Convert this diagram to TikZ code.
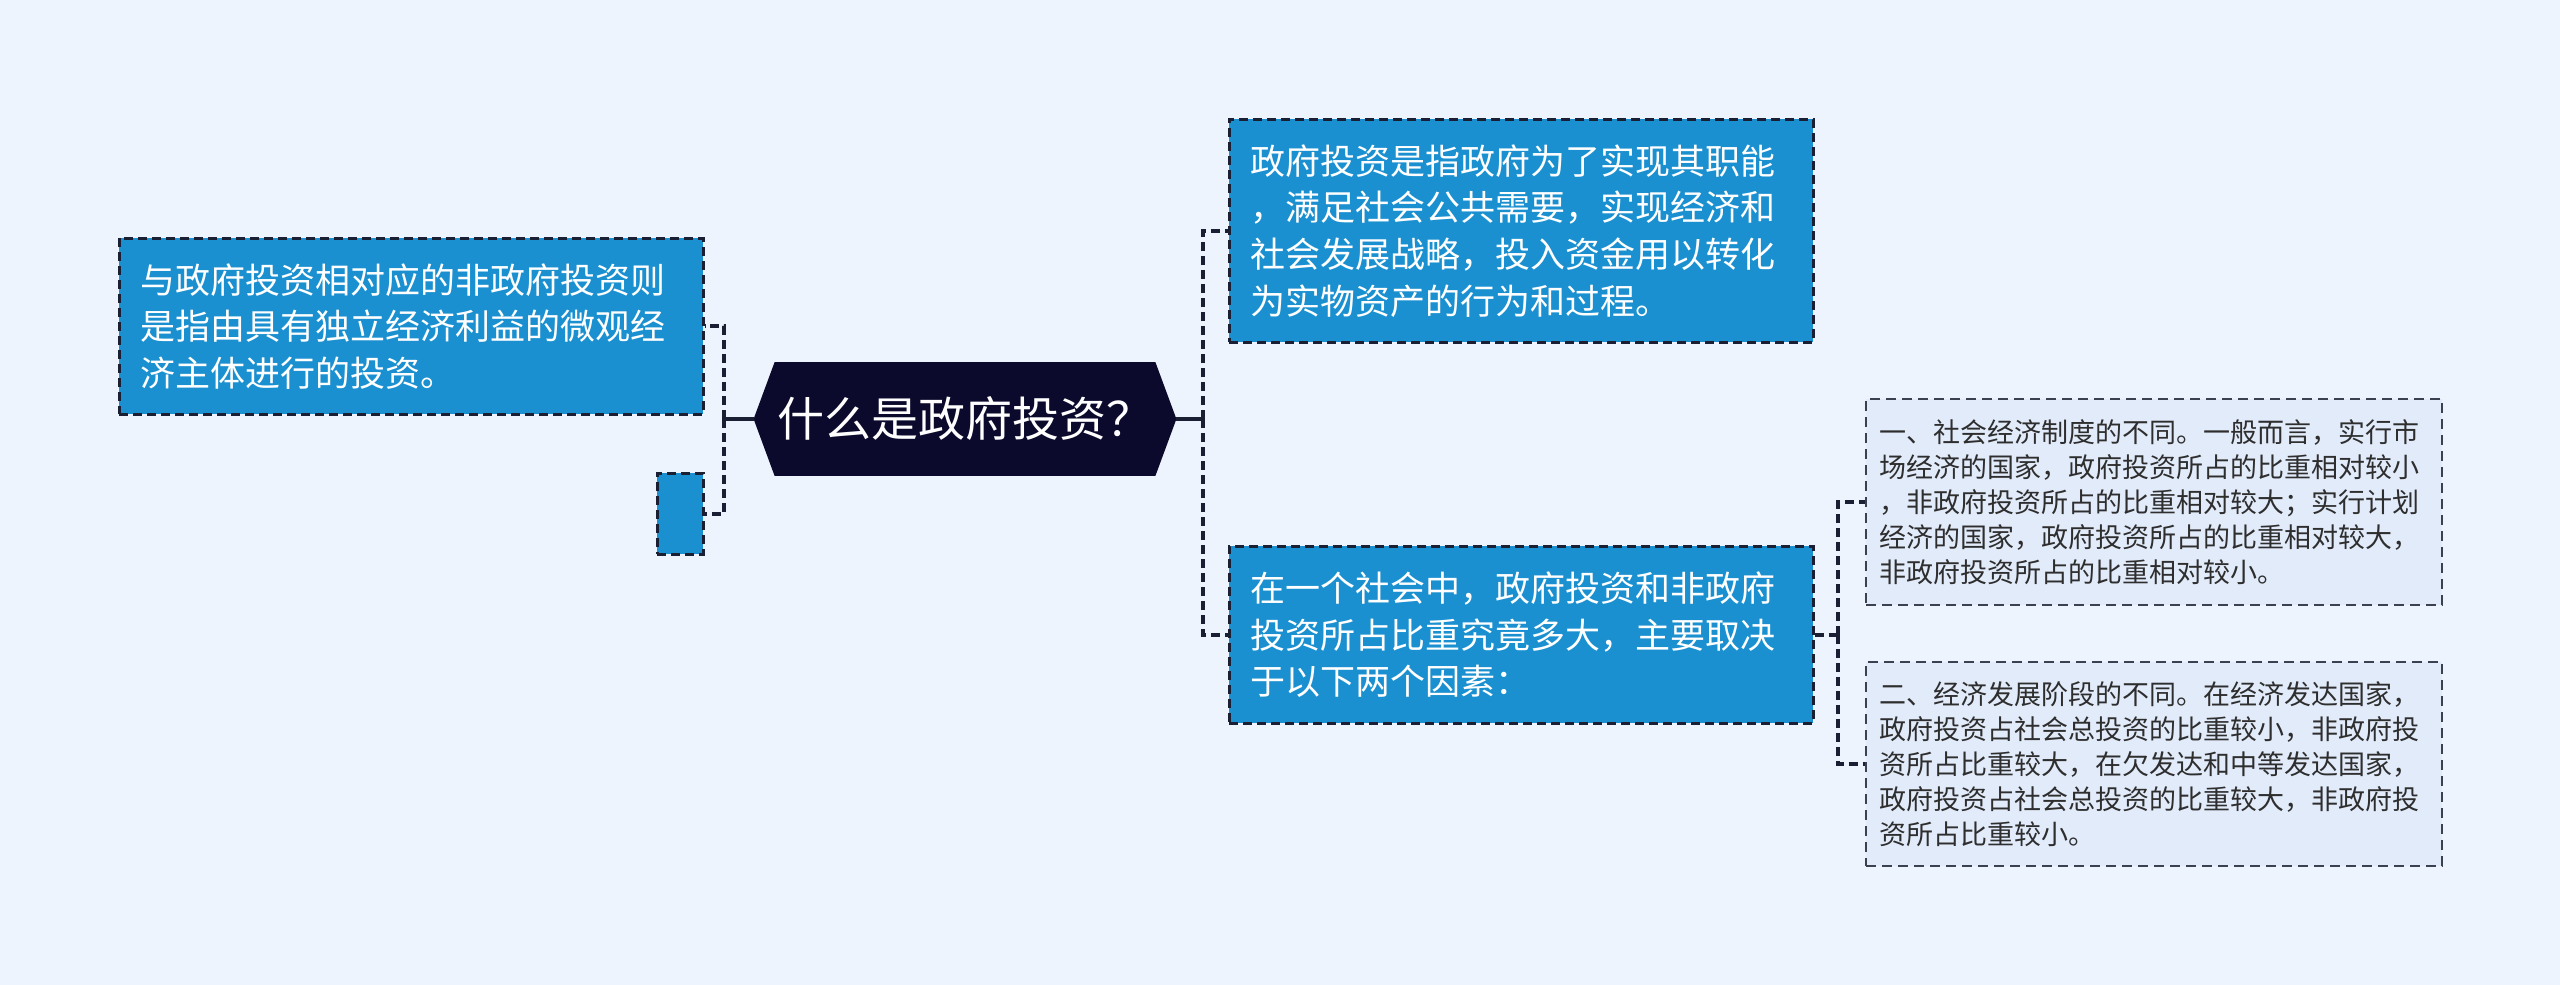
\documentclass[tikz,border=0pt]{standalone}
\usepackage{fontspec}
\setmainfont{Noto Sans CJK SC}
\definecolor{bgc}{HTML}{EEF4FE}
\definecolor{bluec}{HTML}{1A90D0}
\definecolor{lightc}{HTML}{E2EBFA}
\definecolor{navyc}{HTML}{0B0A2C}
\definecolor{linec}{HTML}{1A1F33}
\definecolor{txtc}{HTML}{2E2E2E}
\tikzset{
  bluebox/.style={draw=linec, fill=bluec, dash pattern=on 4.5pt off 2.5pt, line width=1.3pt,
    text=white, font=\fontsize{17.5}{23.3}\selectfont, align=left, inner xsep=10.5pt, inner ysep=0pt,
    anchor=north west, text width=271pt, minimum width=292pt},
  lightbox/.style={draw=linec!85, fill=lightc, dash pattern=on 5pt off 3pt, line width=1.1pt,
    text=txtc, font=\fontsize{13.5}{17.5}\selectfont, align=left, inner xsep=6.5pt, inner ysep=0pt,
    anchor=north west, text width=275pt, minimum width=288pt, minimum height=102pt},
  conn/.style={draw=linec, line width=2pt, dash pattern=on 4.5pt off 2.5pt},
  stub/.style={draw=linec, line width=2pt}
}
\begin{document}
\begin{tikzpicture}[x=0.5pt,y=-0.5pt]
\fill[bgc] (0,0) rectangle (2560,985);
\useasboundingbox (0,0) rectangle (2560,985);

% root
\node[minimum width=211pt, minimum height=56.5pt, inner sep=0pt] (root) at (965,419) {};
\fill[navyc] (root.west) -- ([xshift=10.5pt]root.north west) -- ([xshift=-10.5pt]root.north east)
  -- (root.east) -- ([xshift=-10.5pt]root.south east) -- ([xshift=10.5pt]root.south west) -- cycle;
\node[text=white, font=\fontsize{23.5}{28}\selectfont] (rootlabel) at (root.center) {什么是政府投资？};

% left
\node[bluebox, minimum height=88pt] (a) at (118,237) {与政府投资相对应的非政府投资则\\是指由具有独立经济利益的微观经\\济主体进行的投资。};
\node[draw=linec, fill=bluec, dash pattern=on 4.5pt off 2.5pt, line width=1.3pt, anchor=north west,
  minimum width=23pt, minimum height=40.5pt, inner sep=0pt] (b) at (656,472) {};

% right
\node[bluebox, minimum height=111.5pt] (c) at (1228,118) {政府投资是指政府为了实现其职能\\，满足社会公共需要，实现经济和\\社会发展战略，投入资金用以转化\\为实物资产的行为和过程。};
\node[bluebox, minimum height=88.5pt] (d) at (1228,545) {在一个社会中，政府投资和非政府\\投资所占比重究竟多大，主要取决\\于以下两个因素：};

\node[lightbox, minimum height=103pt] (e) at (1865,398) {一、社会经济制度的不同。一般而言，实行市\\场经济的国家，政府投资所占的比重相对较小\\，非政府投资所占的比重相对较大；实行计划\\经济的国家，政府投资所占的比重相对较大，\\非政府投资所占的比重相对较小。};
\node[lightbox, minimum height=102pt] (f) at (1865,661) {二、经济发展阶段的不同。在经济发达国家，\\政府投资占社会总投资的比重较小，非政府投\\资所占比重较大，在欠发达和中等发达国家，\\政府投资占社会总投资的比重较大，非政府投\\资所占比重较小。};

% connectors
\coordinate (jl) at (724,419);
\coordinate (jr) at (1203,419);
\coordinate (jd) at (1838,633);
\draw[stub] (root.west) -- (jl);
\draw[conn] (jl) |- (a.east);
\draw[conn] (jl) |- (b.east);
\draw[stub] (root.east) -- (jr);
\draw[conn] (jr) |- (c.west);
\draw[conn] (jr) |- (d.west);
\draw[conn] (d.east) -- (jd |- d.east);
\draw[conn] (jd |- d.east) |- (e.west);
\draw[conn] (jd |- d.east) |- (f.west);
\end{tikzpicture}
\end{document}
